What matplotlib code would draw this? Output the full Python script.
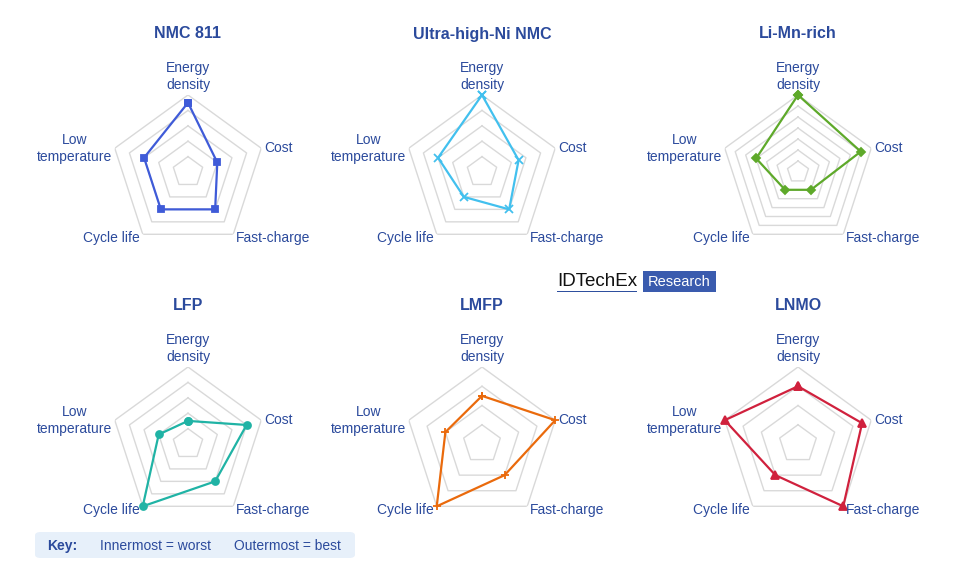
import numpy as np
import matplotlib as mpl
mpl.use('Agg')
import matplotlib.pyplot as plt
from matplotlib.patches import FancyBboxPatch, Rectangle

plt.rcParams['font.family'] = ['Liberation Sans', 'DejaVu Sans']

W, H = 954, 575
R = 77  # outer pentagon radius, px

categories = ['Energy\ndensity', 'Cost', 'Fast-charge', 'Cycle life', 'Low\ntemperature']

titles = ['NMC 811', 'Ultra-high-Ni NMC', 'Li-Mn-rich', 'LFP', 'LMFP', 'LNMO']
centers = [(188, 172), (482, 172), (798, 172), (188, 444), (482, 444), (798, 444)]

# values in the order of categories
nmc811 = [4.5, 2, 3, 3, 3]
ultra_ni = [5, 2.5, 3, 2, 3]
li_mn_rich = [3.5, 3, 1, 1, 2]
lfp = [1.5, 4, 3, 5, 2]
lmfp = [2.5, 4, 2, 4, 2]
lnmo = [3, 3.5, 4, 2, 4]
series = [nmc811, ultra_ni, li_mn_rich, lfp, lmfp, lnmo]

# grid rings for each chart
rings = [[1, 2, 3, 4, 5], [1, 2, 3, 4, 5], [0.5, 1, 1.5, 2, 2.5, 3, 3.5],
         [1, 2, 3, 4, 5], [1, 2, 3, 4], [1, 2, 3, 4]]

colors = ['#3f5bd8', '#42c0ee', '#5ea92a', '#20b3a5', '#ea6a0c', '#d0213d']
markers = ['s', 'x', 'D', 'o', '+', '^']
msizes = [5, 6, 4, 5, 6, 6]

txt_col = '#2b4a9c'
grid_col = '#d9d9d9'

fig = plt.figure(figsize=(W / 100, H / 100), dpi=100)

theta = np.deg2rad(np.arange(0, 360, 72))
theta_c = np.append(theta, theta[0])

# label offsets in pixels and alignment
lab_pos = [((0, 3), 'center', 'bottom'),
           ((3, 0), 'left', 'center'),
           ((3, -4), 'left', 'center'),
           ((-3, -4), 'right', 'center'),
           ((-3, 0), 'right', 'center')]

for i in range(6):
    cx, cy = centers[i]
    ax = fig.add_axes([(cx - R) / W, 1 - (cy + R) / H, 2 * R / W, 2 * R / H], projection='polar')
    ax.set_theta_zero_location('N')
    ax.set_theta_direction(-1)
    rmax = rings[i][-1]
    ax.set_ylim(0, rmax)
    ax.grid(False)
    ax.set_xticks([])
    ax.set_yticks([])
    ax.spines['polar'].set_visible(False)
    ax.patch.set_alpha(0)

    for lv in rings[i]:
        ax.plot(theta_c, [lv] * len(theta_c), color=grid_col, lw=1, zorder=1)

    vals = series[i] + [series[i][0]]
    ax.plot(theta_c, vals, color=colors[i], lw=1.6, marker=markers[i], ms=msizes[i],
            mew=1.3, clip_on=False, zorder=3)

    for k, lab in enumerate(categories):
        (dx, dy), ha, va = lab_pos[k]
        ax.annotate(lab, xy=(theta[k], rmax), xytext=(dx * 0.72, dy * 0.72),
                    textcoords='offset points', ha=ha, va=va, multialignment='center',
                    linespacing=1.3, fontsize=10, color=txt_col, annotation_clip=False)

    fig.text(cx / W, 1 - (cy - 138) / H, titles[i], ha='center', va='center',
             fontsize=11.5, fontweight='bold', color=txt_col)

# logo
fig.text(557 / W, 1 - 282 / H, 'IDTechEx', ha='left', va='center', fontsize=13.5, color='#111111')
fig.add_artist(Rectangle((557 / W, 1 - 292 / H), 80 / W, 1.5 / H, color='#2e4f9e', lw=0))
fig.add_artist(Rectangle((643 / W, 1 - 292 / H), 73 / W, 21 / H, color='#3a5bae', lw=0))
fig.text(679.5 / W, 1 - 282 / H, 'Research', ha='center', va='center', fontsize=10.5, color='white')

# key box
fig.add_artist(FancyBboxPatch((35 / W, 1 - 558 / H), 320 / W, 26 / H,
                              boxstyle='round,pad=0,rounding_size=0.006',
                              fc='#e7f0fa', ec='none'))
fig.text(47 / W, 1 - 546 / H, 'Key:', ha='left', va='center', fontsize=10,
         fontweight='bold', color=txt_col)
fig.text(100 / W, 1 - 546 / H, 'Innermost = worst', ha='left', va='center', fontsize=10, color=txt_col)
fig.text(234 / W, 1 - 546 / H, 'Outermost = best', ha='left', va='center', fontsize=10, color=txt_col)

fig.savefig('out.png', dpi=100)
